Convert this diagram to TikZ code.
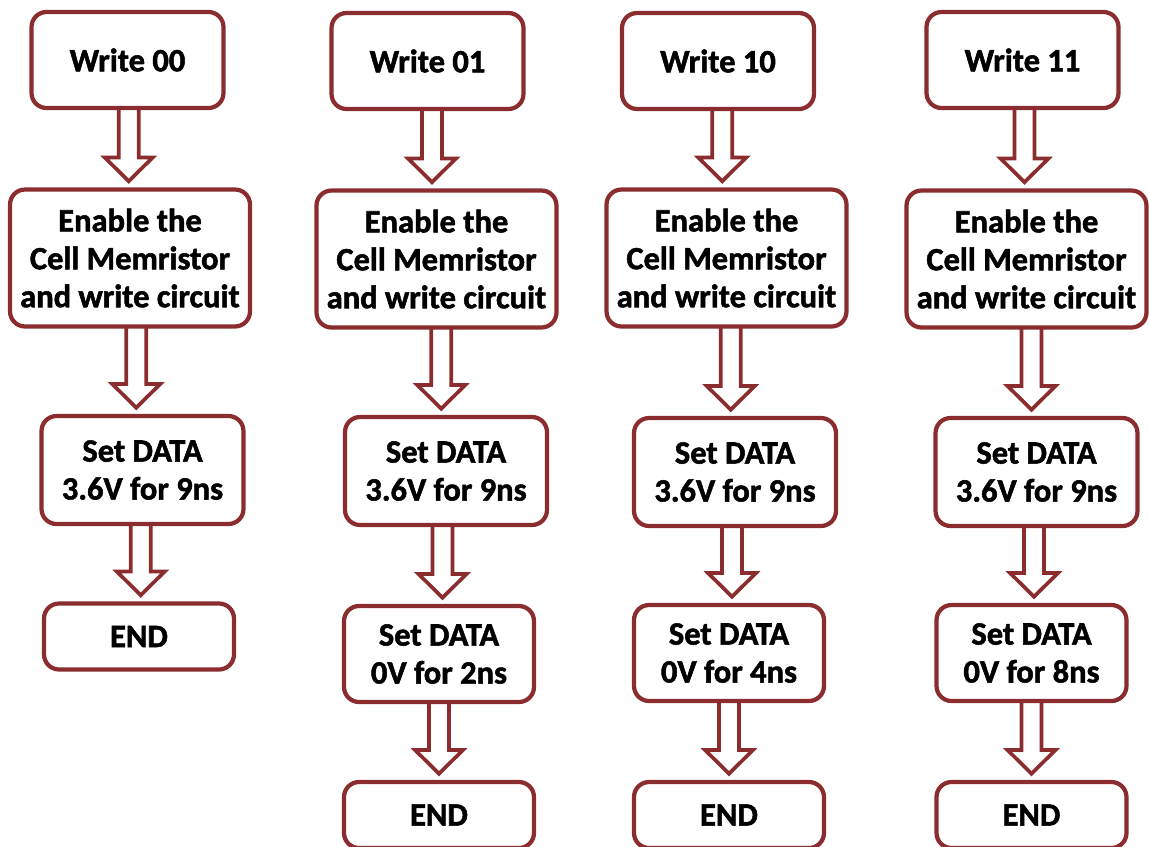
\documentclass[tikz,border=0pt]{standalone}
\usepackage{fontspec}
\setmainfont{Carlito}[BoldFeatures={FakeBold=1.6}]
\usepackage{xcolor}
\usepackage{tikz}
\usetikzlibrary{calc,backgrounds}
\definecolor{wine}{HTML}{8B2C2F}
\tikzset{
  stepbox/.style={
    rectangle, rounded corners=0.3cm, draw=wine, fill=white,
    line width=2.4pt, align=center, inner sep=2pt,
    font=\fontsize{18.5}{21.6}\selectfont\bfseries
  },
  writebox/.style={stepbox, minimum width=3.84cm, minimum height=1.92cm},
  enablebox/.style={stepbox, minimum width=4.8cm, minimum height=2.74cm},
  highbox/.style={stepbox, minimum width=4.04cm, minimum height=2.16cm},
  lowbox/.style={stepbox, minimum width=3.8cm, minimum height=1.92cm},
  endbox/.style={stepbox, minimum width=3.8cm, minimum height=1.32cm},
  hollowarrow/.style={
    draw=wine, fill=white, line width=2.1pt, line join=miter,
    to path={let \p1=(\tikztostart), \p2=(\tikztotarget),
      \p3=($(\tikztostart)!0.5!(\tikztotarget)$) in
      (\x3-5.7pt,\y1+2pt) -- (\x3-5.7pt,\y2+17pt) -- (\x3-13.6pt,\y2+17pt)
      -- (\x3,\y2+3.5pt) -- (\x3+13.6pt,\y2+17pt) -- (\x3+5.7pt,\y2+17pt)
      -- (\x3+5.7pt,\y1+2pt)}
  },
}
\begin{document}
\begin{tikzpicture}[x=0.02cm, y=-0.02cm]
\useasboundingbox (0,0) rectangle (1149,846);
\clip (0,0) rectangle (1149,846);
% Write 00
\node[writebox] (write-00) at (127.5,60) {Write 00};
\node[enablebox] (enable-00) at (130,258) {Enable the\\Cell Memristor\\and write circuit};
\node[highbox] (high-00) at (142.5,470) {Set DATA\\3.6V for 9ns};
\node[endbox] (end-00) at (139,636.5) {END};
% Write 01
\node[writebox] (write-01) at (427.5,61) {Write 01};
\node[enablebox] (enable-01) at (436.5,259) {Enable the\\Cell Memristor\\and write circuit};
\node[highbox] (high-01) at (446,471) {Set DATA\\3.6V for 9ns};
\node[lowbox] (low-01) at (439,654) {Set DATA\\0V for 2ns};
\node[endbox] (end-01) at (439,815) {END};
% Write 10
\node[writebox] (write-10) at (718,61) {Write 10};
\node[enablebox] (enable-10) at (726.5,258) {Enable the\\Cell Memristor\\and write circuit};
\node[highbox] (high-10) at (735,472) {Set DATA\\3.6V for 9ns};
\node[lowbox] (low-10) at (729,653) {Set DATA\\0V for 4ns};
\node[endbox] (end-10) at (729,815) {END};
% Write 11
\node[writebox] (write-11) at (1022.5,60) {Write 11};
\node[enablebox] (enable-11) at (1026.5,259) {Enable the\\Cell Memristor\\and write circuit};
\node[highbox] (high-11) at (1036.5,472) {Set DATA\\3.6V for 9ns};
\node[lowbox] (low-11) at (1031.5,653) {Set DATA\\0V for 8ns};
\node[endbox] (end-11) at (1031.5,815) {END};
\begin{scope}[on background layer]
  \draw[hollowarrow] (write-00.south) to (enable-00.north);
  \draw[hollowarrow] (enable-00.south) to (high-00.north);
  \draw[hollowarrow] (high-00.south) to (end-00.north);
  \draw[hollowarrow] (write-01.south) to (enable-01.north);
  \draw[hollowarrow] (enable-01.south) to (high-01.north);
  \draw[hollowarrow] (high-01.south) to (low-01.north);
  \draw[hollowarrow] (low-01.south) to (end-01.north);
  \draw[hollowarrow] (write-10.south) to (enable-10.north);
  \draw[hollowarrow] (enable-10.south) to (high-10.north);
  \draw[hollowarrow] (high-10.south) to (low-10.north);
  \draw[hollowarrow] (low-10.south) to (end-10.north);
  \draw[hollowarrow] (write-11.south) to (enable-11.north);
  \draw[hollowarrow] (enable-11.south) to (high-11.north);
  \draw[hollowarrow] (high-11.south) to (low-11.north);
  \draw[hollowarrow] (low-11.south) to (end-11.north);
\end{scope}
\end{tikzpicture}
\end{document}
